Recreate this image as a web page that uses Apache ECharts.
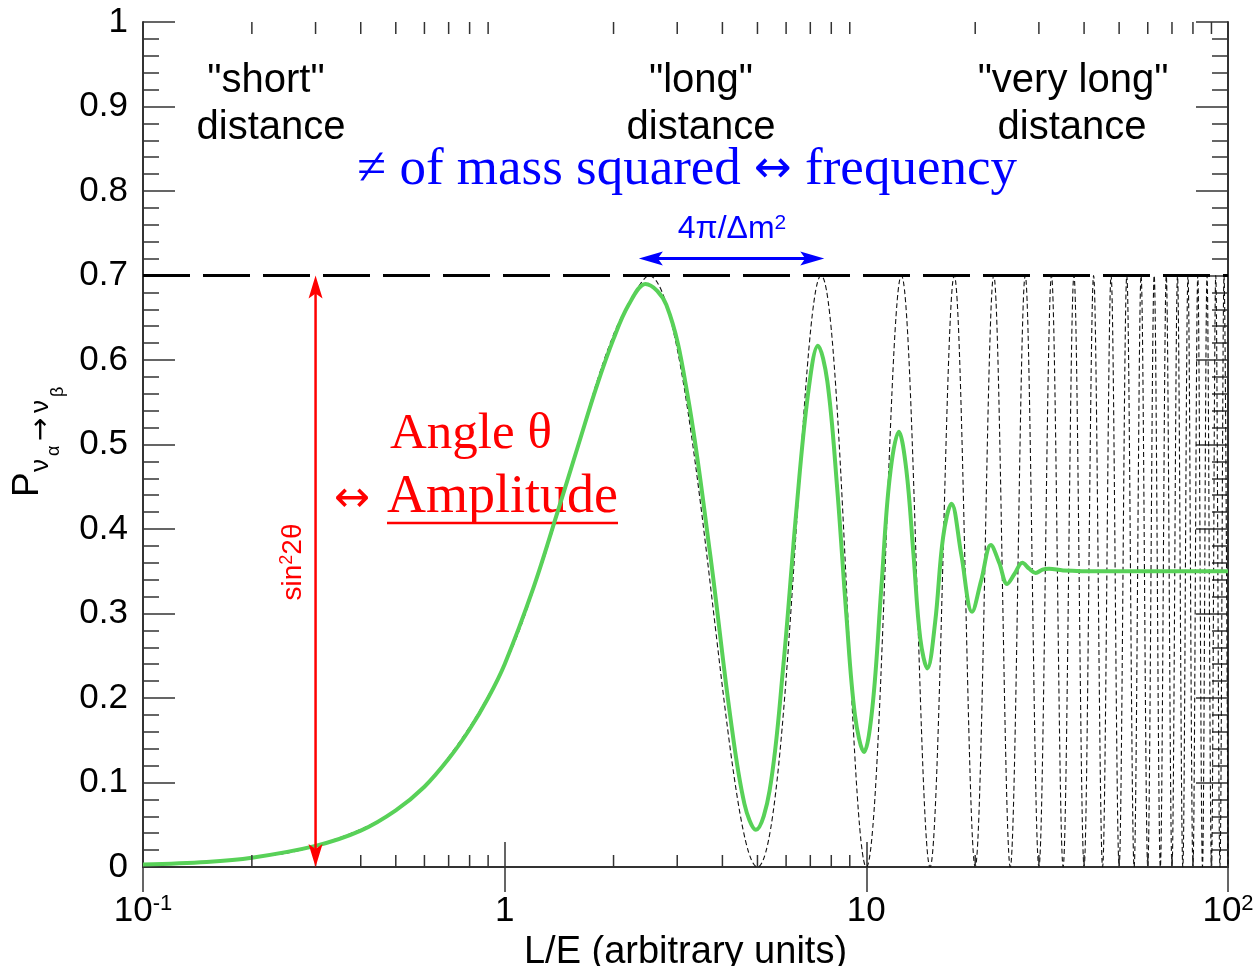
<!DOCTYPE html>
<html>
<head>
<meta charset="utf-8">
<script src="https://cdn.jsdelivr.net/npm/echarts@6/dist/echarts.min.js"></script>
<style>
  html, body { margin: 0; padding: 0; background: #ffffff; }
  #chart { width: 1258px; height: 966px; }
</style>
</head>
<body>
<div id="chart"></div>
<script>
// ---- data -------------------------------------------------------------
// Smeared (averaged) oscillation probability, green curve
const greenX = [0.1, 0.15, 0.2, 0.3, 0.4, 0.5, 0.6, 0.7, 0.8, 0.9, 1, 1.2, 1.4, 1.6, 1.8, 2, 2.2, 2.45,
  2.8, 3.2, 3.7, 4.2, 4.6, 4.95, 5.4, 5.9, 6.4, 6.9, 7.35, 7.8, 8.3, 8.8, 9.3, 9.85,
  10.4, 11.0, 11.6, 12.3, 12.9, 13.5, 14.1, 14.75, 15.5, 16.3, 17.2, 18.3, 19.6,
  20.8, 22.1, 23.3, 24.5, 25.7, 27, 28.2, 29.4, 30.7, 32, 35, 45, 100];
const greenY = [0.003, 0.006, 0.011, 0.025, 0.043, 0.067, 0.095, 0.128, 0.163, 0.2, 0.24, 0.33, 0.42, 0.5, 0.57, 0.625, 0.665, 0.69,
  0.665, 0.56, 0.37, 0.18, 0.075, 0.044, 0.09, 0.24, 0.42, 0.56, 0.617, 0.575, 0.45, 0.3, 0.18, 0.136,
  0.19, 0.33, 0.46, 0.515, 0.47, 0.37, 0.27, 0.235, 0.29, 0.39, 0.43, 0.37, 0.302,
  0.34, 0.381, 0.36, 0.335, 0.347, 0.36, 0.353, 0.348, 0.352, 0.353, 0.351, 0.35, 0.35];

// Pure oscillation, dashed curve: rising part, then its maxima and zeros
const riseX = [0.1, 0.2, 0.3, 0.5, 0.7, 1, 1.25, 1.5, 2];
const riseY = [0.003, 0.011, 0.025, 0.067, 0.13, 0.24, 0.35, 0.46, 0.63];
const peakX = [2.5, 7.5, 12.5, 17.5, 22.5, 27.5, 32.5, 37.5, 42.5, 47.5,
  52.5, 57.5, 62.5, 67.5, 72.5, 77.5, 82.5, 87.5, 92.5, 97.5];
const zeroX = [5, 10, 15, 20, 25, 30, 35, 40, 45, 50,
  55, 60, 65, 70, 75, 80, 85, 90, 95, 100];
const amplitude = 0.7;   // sin^2 2θ

// Annotation arrows: amplitude (vertical) and one period (horizontal)
const amplitudeArrow = [0.3, 0, 0.3, 0.7];
const periodArrow = [2.35, 0.72, 7.65, 0.72];

// Axis ticks and labels
const xRange = [0.1, 100];
const xMinorTicks = [0.2, 0.3, 0.4, 0.5, 0.6, 0.7, 0.8, 0.9,
  2, 3, 4, 5, 6, 7, 8, 9, 20, 30, 40, 50, 60, 70, 80, 90];
const xTickLabels = { '0.1': '{b|10}{s|-1}', '1': '{b|1}', '10': '{b|10}', '100': '{b|10}{s|2}' };
const yTickLabels = ['0', '0.1', '0.2', '0.3', '0.4', '0.5', '0.6', '0.7', '0.8', '0.9', '1'];

// ---- build series data -------------------------------------------------
const greenData = greenX.map((x, i) => [x, greenY[i]]);
const dashedData = riseX.map((x, i) => [x, riseY[i]]);
peakX.forEach((x, i) => { dashedData.push([x, amplitude]); dashedData.push([zeroX[i], 0]); });
const levelData = [[xRange[0], amplitude], [xRange[1], amplitude]];

const SANS = "'Liberation Sans', Arial, Helvetica, sans-serif";
const SERIF = "'Liberation Serif', 'Times New Roman', serif";
const ARROWS = "'DejaVu Sans', sans-serif";
const AXIS_COLOR = '#333333';

function arrowItem(color, lineWidth, headLen, headHalf, notch) {
  return function (params, api) {
    const a = api.coord([api.value(0), api.value(1)]);
    const b = api.coord([api.value(2), api.value(3)]);
    const dx = b[0] - a[0], dy = b[1] - a[1];
    const len = Math.sqrt(dx * dx + dy * dy);
    const ux = dx / len, uy = dy / len, nx = -uy, ny = ux;
    function head(tip, sx, sy) {
      const bx = tip[0] + sx * headLen, by = tip[1] + sy * headLen;
      const mx = tip[0] + sx * (headLen - notch), my = tip[1] + sy * (headLen - notch);
      return {
        type: 'polygon',
        shape: { points: [[tip[0], tip[1]], [bx + nx * headHalf, by + ny * headHalf], [mx, my], [bx - nx * headHalf, by - ny * headHalf]] },
        style: { fill: color }
      };
    }
    return {
      type: 'group',
      children: [
        { type: 'line', shape: { x1: a[0] + ux * 6, y1: a[1] + uy * 6, x2: b[0] - ux * 6, y2: b[1] - uy * 6 },
          style: { stroke: color, lineWidth: lineWidth } },
        head(a, ux, uy),
        head(b, -ux, -uy)
      ]
    };
  };
}

const chart = echarts.init(document.getElementById('chart'), null, { renderer: 'canvas' });

const baseAxis = {
  axisLine: { show: true, lineStyle: { color: AXIS_COLOR, width: 2 } },
  splitLine: { show: false }
};

chart.setOption({
  animation: false,
  backgroundColor: '#ffffff',
  grid: { left: 143, right: 30, top: 22, bottom: 99, containLabel: false, outerBoundsMode: 'none' },
  xAxis: [
    Object.assign({}, baseAxis, {
      type: 'log', logBase: 10, min: xRange[0], max: xRange[1], position: 'bottom',
      axisTick: { show: true, inside: true, length: 25, lineStyle: { color: AXIS_COLOR, width: 1.5 } },
      axisLabel: {
        show: true, margin: 26, color: '#000',
        formatter: v => xTickLabels[String(+v.toPrecision(6))] || '',
        rich: {
          b: { fontFamily: SANS, fontSize: 35, lineHeight: 36, color: '#000' },
          s: { fontFamily: SANS, fontSize: 22, lineHeight: 22, verticalAlign: 'top', color: '#000' }
        }
      },
      name: 'L/E (arbitrary units)', nameLocation: 'middle', nameGap: 57,
      nameTextStyle: { fontFamily: SANS, fontSize: 38, color: '#000' }
    }),
    Object.assign({}, baseAxis, {
      type: 'log', logBase: 10, min: xRange[0], max: xRange[1], position: 'top',
      axisTick: { show: true, inside: true, length: 25, lineStyle: { color: AXIS_COLOR, width: 1.5 } },
      axisLabel: { show: false }
    })
  ],
  yAxis: [
    Object.assign({}, baseAxis, {
      type: 'value', min: 0, max: 1, interval: 0.1, position: 'left',
      axisTick: { show: true, inside: true, length: 32, lineStyle: { color: AXIS_COLOR, width: 1.5 } },
      minorTick: { show: true, splitNumber: 5, length: 16, lineStyle: { color: AXIS_COLOR, width: 1.5 } },
      axisLabel: {
        show: true, margin: 15, color: '#000', fontFamily: SANS, fontSize: 35,
        formatter: v => yTickLabels[Math.round(v * 10)]
      }
    }),
    Object.assign({}, baseAxis, {
      type: 'value', min: 0, max: 1, interval: 0.1, position: 'right',
      axisTick: { show: true, inside: true, length: 32, lineStyle: { color: AXIS_COLOR, width: 1.5 } },
      minorTick: { show: true, splitNumber: 5, length: 16, lineStyle: { color: AXIS_COLOR, width: 1.5 } },
      axisLabel: { show: false }
    })
  ],
  series: [
    {
      name: 'oscillation', type: 'line', data: dashedData, smooth: 0.36,
      symbol: 'none', showSymbol: false, z: 2,
      lineStyle: { color: '#111111', width: 1.1, type: [5, 3] }
    },
    {
      name: 'averaged', type: 'line', data: greenData, smooth: 0.36,
      symbol: 'none', showSymbol: false, z: 3,
      lineStyle: { color: '#58d158', width: 4 }
    },
    {
      name: 'amplitude level', type: 'line', data: levelData,
      symbol: 'none', showSymbol: false, z: 4,
      lineStyle: { color: '#000000', width: 3, type: [47, 13] }
    },
    {
      name: 'x minor ticks', type: 'custom', data: xMinorTicks.map(v => [v, 0]),
      encode: { x: 0, y: 1 }, z: 5, silent: true,
      renderItem: function (params, api) {
        const v = api.value(0);
        const b = api.coord([v, 0]), t = api.coord([v, 1]);
        return {
          type: 'group',
          children: [
            { type: 'line', shape: { x1: b[0], y1: b[1], x2: b[0], y2: b[1] - 12 }, style: { stroke: AXIS_COLOR, lineWidth: 1.5 } },
            { type: 'line', shape: { x1: t[0], y1: t[1], x2: t[0], y2: t[1] + 12 }, style: { stroke: AXIS_COLOR, lineWidth: 1.5 } }
          ]
        };
      }
    },
    {
      name: 'amplitude arrow', type: 'custom', data: [amplitudeArrow],
      encode: { x: [0, 2], y: [1, 3] }, z: 6, silent: true,
      renderItem: arrowItem('#ff0000', 2.5, 23, 7, 5)
    },
    {
      name: 'period arrow', type: 'custom', data: [periodArrow],
      encode: { x: [0, 2], y: [1, 3] }, z: 6, silent: true,
      renderItem: arrowItem('#0000ff', 3, 24, 7, 5)
    }
  ],
  graphic: [
    // y axis title: P with nested subscripts, reading bottom to top
    {
      type: 'group', x: 27.5, y: 497, rotation: Math.PI / 2, silent: true,
      children: [
        { type: 'text', x: 0, y: 0, style: { text: 'P', font: '37px ' + SANS, fill: '#000', align: 'left', verticalAlign: 'middle' } },
        { type: 'text', x: 25, y: 13.5, style: { text: 'ν', font: '26px ' + SANS, fill: '#000', align: 'left', verticalAlign: 'middle' } },
        { type: 'text', x: 41, y: 27, style: { text: 'α', font: '18px ' + SANS, fill: '#000', align: 'left', verticalAlign: 'middle' } },
        { type: 'text', x: 56, y: 14.5, style: { text: '→', font: '28px ' + ARROWS, fill: '#000', align: 'left', verticalAlign: 'middle' } },
        { type: 'text', x: 84, y: 13.5, style: { text: 'ν', font: '26px ' + SANS, fill: '#000', align: 'left', verticalAlign: 'middle' } },
        { type: 'text', x: 100, y: 30.5, style: { text: 'β', font: '18px ' + SANS, fill: '#000', align: 'left', verticalAlign: 'middle' } }
      ]
    },
    // distance regimes
    { type: 'text', x: 266, y: 81, silent: true, style: { text: '"short"', font: '40px ' + SANS, fill: '#000', align: 'center', verticalAlign: 'middle' } },
    { type: 'text', x: 271, y: 128, silent: true, style: { text: 'distance', font: '40px ' + SANS, fill: '#000', align: 'center', verticalAlign: 'middle' } },
    { type: 'text', x: 701, y: 81, silent: true, style: { text: '"long"', font: '40px ' + SANS, fill: '#000', align: 'center', verticalAlign: 'middle' } },
    { type: 'text', x: 701, y: 128, silent: true, style: { text: 'distance', font: '40px ' + SANS, fill: '#000', align: 'center', verticalAlign: 'middle' } },
    { type: 'text', x: 1073, y: 81, silent: true, style: { text: '"very long"', font: '40px ' + SANS, fill: '#000', align: 'center', verticalAlign: 'middle' } },
    { type: 'text', x: 1072, y: 128, silent: true, style: { text: 'distance', font: '40px ' + SANS, fill: '#000', align: 'center', verticalAlign: 'middle' } },
    // frequency annotation
    {
      type: 'text', x: 687, y: 170, silent: true,
      style: {
        text: '{t|≠ of mass squared }{a|↔}{t| frequency}', align: 'center', verticalAlign: 'middle',
        rich: {
          t: { fontFamily: SERIF, fontSize: 53, lineHeight: 58, fill: '#0000ff' },
          a: { fontFamily: ARROWS, fontSize: 45, lineHeight: 58, fill: '#0000ff' }
        }
      }
    },
    {
      type: 'text', x: 732, y: 229, silent: true,
      style: {
        text: '{a|4π/Δm}{s|2}', align: 'center', verticalAlign: 'middle',
        rich: {
          a: { fontFamily: SANS, fontSize: 32, lineHeight: 32, fill: '#0000ff' },
          s: { fontFamily: SANS, fontSize: 21, lineHeight: 21, verticalAlign: 'top', fill: '#0000ff' }
        }
      }
    },
    // amplitude annotation
    { type: 'text', x: 390, y: 435, silent: true, style: { text: 'Angle θ', font: '51px ' + SERIF, fill: '#ff0000', align: 'left', verticalAlign: 'middle' } },
    { type: 'text', x: 334, y: 500, silent: true, style: { text: '↔', font: '43px ' + ARROWS, fill: '#ff0000', align: 'left', verticalAlign: 'middle' } },
    { type: 'text', x: 387, y: 498, silent: true, style: { text: 'Amplitude', font: '54px ' + SERIF, fill: '#ff0000', align: 'left', verticalAlign: 'middle' } },
    { type: 'line', silent: true, shape: { x1: 387, y1: 523, x2: 618, y2: 523 }, style: { stroke: '#ff0000', lineWidth: 2.5 } },
    {
      type: 'text', x: 293, y: 562, rotation: Math.PI / 2, silent: true,
      style: {
        text: '{a|sin}{s|2}{a|2θ}', align: 'center', verticalAlign: 'middle',
        rich: {
          a: { fontFamily: SANS, fontSize: 28, lineHeight: 29, fill: '#ff0000' },
          s: { fontFamily: SANS, fontSize: 18, lineHeight: 18, verticalAlign: 'top', fill: '#ff0000' }
        }
      }
    }
  ]
});
</script>
</body>
</html>
